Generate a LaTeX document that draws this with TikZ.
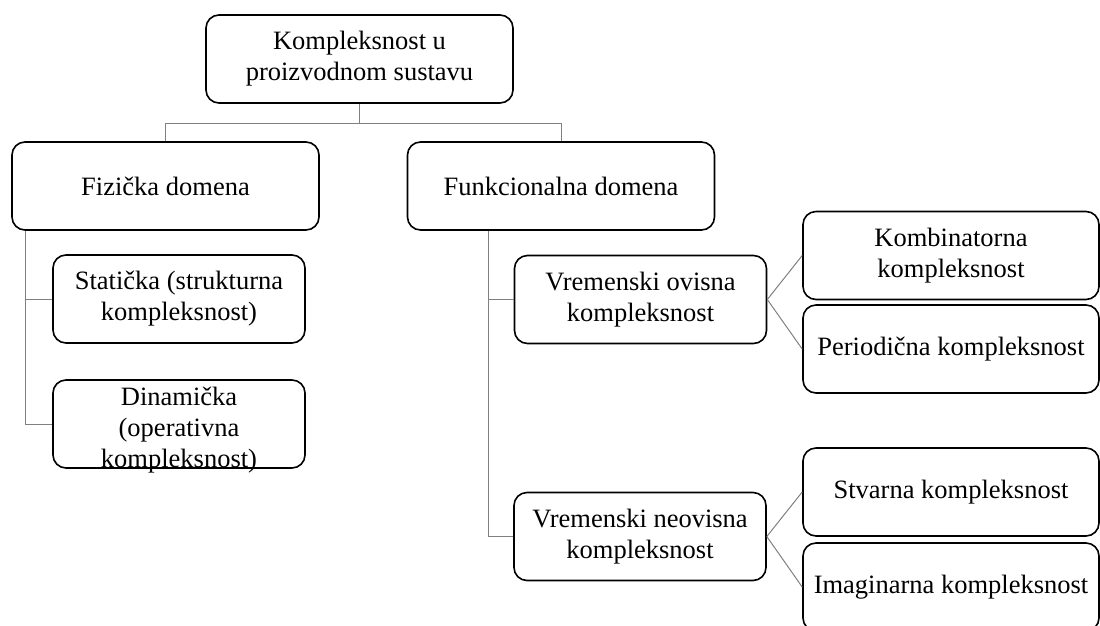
\documentclass[tikz,border=0pt]{standalone}
\usepackage{fontspec}
\setmainfont{Liberation Serif}
\begin{document}
\begin{tikzpicture}[x=1pt,y=-1pt,
  box/.style={draw=black, line width=1.6pt, rounded corners=13pt,
    minimum height=88pt, inner sep=0pt, align=center,
    font=\fontsize{26.5}{31}\selectfont},
  wide/.style={box, minimum width=307pt},
  mid/.style={box, minimum width=252pt},
  leaf/.style={box, minimum width=296pt},
  label/.style={inner sep=0pt, align=center, font=\fontsize{26.5}{31}\selectfont},
  conn/.style={draw=black!50, line width=1pt}]
\useasboundingbox (0,0) rectangle (1100,625);
\clip (0,0) rectangle (1100,625);

% root and the two domains
\node[wide] (top) at (359.5,59) {Kompleksnost u\\proizvodnom sustavu};
\node[wide] (fiz) at (165.5,186) {Fizička domena};
\node[wide] (fun) at (561,186) {Funkcionalna domena};

% physical domain
\node[mid] (stat) at (179,299) {Statička (strukturna\\kompleksnost)};
\node[mid] (din) at (179,424) {};
\node[label] at ([yshift=-6pt]din.center) {Dinamička\\(operativna\\kompleksnost)};

% functional domain
\node[mid] (vo) at (640.5,299.5) {Vremenski ovisna\\kompleksnost};
\node[mid] (vn) at (640,536.5) {Vremenski neovisna\\kompleksnost};

% leaves
\node[leaf] (komb) at (951,255.5) {Kombinatorna\\kompleksnost};
\node[leaf] (per) at (951,349) {Periodična kompleksnost};
\node[leaf] (stv) at (951,492) {Stvarna kompleksnost};
\node[leaf] (ima) at (951,587) {Imaginarna kompleksnost};

% connectors
\draw[conn] (top.south) -- ++(0,20) -| (fiz.north);
\draw[conn] (top.south) -- ++(0,20) -| (fun.north);
\draw[conn] ([xshift=14pt]fiz.south west) |- (stat.west);
\draw[conn] ([xshift=14pt]fiz.south west) |- (din.west);
\draw[conn] ([xshift=82pt]fun.south west) |- (vo.west);
\draw[conn] ([xshift=82pt]fun.south west) |- (vn.west);
\draw[conn] (vo.east) -- (komb.west);
\draw[conn] (vo.east) -- (per.west);
\draw[conn] (vn.east) -- (stv.west);
\draw[conn] (vn.east) -- (ima.west);
\end{tikzpicture}
\end{document}
